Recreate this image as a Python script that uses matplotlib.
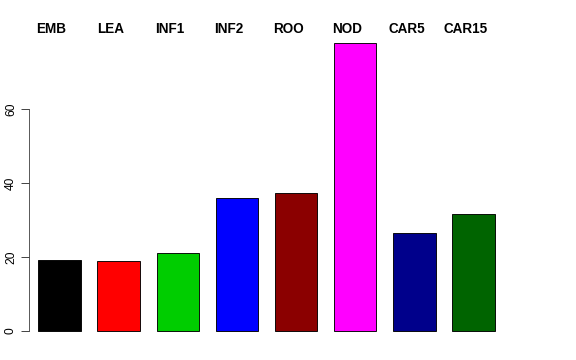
import matplotlib
matplotlib.use("Agg")
import matplotlib.pyplot as plt
import numpy as np

categories = ["EMB", "LEA", "INF1", "INF2", "ROO", "NOD", "CAR5", "CAR15"]
values = [19.2, 18.9, 21.1, 35.9, 37.3, 77.8, 26.4, 31.7]
colors = ["#000000", "#FF0000", "#00CD00", "#0000FF", "#8B0000", "#FF00FF", "#00008B", "#006400"]
yticks = [0, 20, 40, 60]

plt.rcParams['font.family'] = ['Liberation Sans', 'DejaVu Sans']

W, H = 576, 360
fig = plt.figure(figsize=(8, 5), dpi=72)
left_px, right_px = 29, 504
bottom_px, top_px = 342.5, 31.7
ax = fig.add_axes([left_px / W, 1 - bottom_px / H, (right_px - left_px) / W, (bottom_px - top_px) / H])

centers = 0.9 + 1.4 * np.arange(len(categories))
ax.bar(centers, values, width=1.0, color=colors, edgecolor="black", linewidth=0.9)

ax.set_xlim(0.18, 11.42)
ax.set_ylim(-3.11, 80.9)

for s in ["top", "right", "bottom"]:
    ax.spines[s].set_visible(False)
ax.spines["left"].set_bounds(0, 60)
ax.spines["left"].set_color("#333333")
ax.set_xticks([])
ax.set_yticks(yticks)
ax.set_yticklabels([str(t) for t in yticks], rotation=90, va="center", fontsize=12)
ax.tick_params(axis="y", length=8, width=0.9, color="#333333", pad=4)

for c, lab in zip(centers, categories):
    ax.text(c - 0.19, 81.5, lab, ha="center", va="center", fontsize=13.5,
            fontweight="bold", clip_on=False)

fig.savefig("out.png", dpi=72)
